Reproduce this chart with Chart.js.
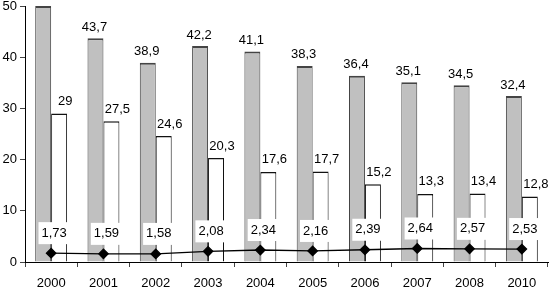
<!DOCTYPE html>
<html>
<head>
<meta charset="utf-8">
<script src="https://cdn.jsdelivr.net/npm/chart.js@4"></script>
<style>
  html, body { margin: 0; padding: 0; background: #fff; }
  #wrap { width: 557px; height: 287px; }
</style>
</head>
<body>
<div id="wrap"><canvas id="myChart"></canvas></div>
<script>
var years = ["2000", "2001", "2002", "2003", "2004", "2005", "2006", "2007", "2008", "2010"];
var greyValues = [50, 43.7, 38.9, 42.2, 41.1, 38.3, 36.4, 35.1, 34.5, 32.4];
var whiteValues = [29, 27.5, 24.6, 20.3, 17.6, 17.7, 15.2, 13.3, 13.4, 12.8];
var lineValues = [1.73, 1.59, 1.58, 2.08, 2.34, 2.16, 2.39, 2.64, 2.57, 2.53];
var yTicks = [0, 10, 20, 30, 40, 50];

var FONT = "Liberation Sans, Arial, sans-serif";

function fmt(v) {
    return String(v).replace(".", ",");
}

// value labels, drawn by hand (no datalabels plugin here)
var labelPlugin = {
    id: "valueLabels",
    afterDatasetsDraw: function (chart) {
        var ctx = chart.ctx;
        ctx.save();
        ctx.font = "13px " + FONT;
        ctx.fillStyle = "#000";
        ctx.textAlign = "center";
        ctx.textBaseline = "middle";

        chart.getDatasetMeta(0).data.forEach(function (bar, i) {
            if (greyValues[i] >= 50) return;
            ctx.fillText(fmt(greyValues[i]), bar.x - 1, bar.y - 11);
        });
        chart.getDatasetMeta(1).data.forEach(function (bar, i) {
            ctx.fillText(fmt(whiteValues[i]), bar.x + 6, bar.y - 12);
        });
        chart.getDatasetMeta(2).data.forEach(function (pt, i) {
            var t = fmt(lineValues[i]);
            var w = ctx.measureText(t).width + 6;
            var cx = pt.x + 3, cy = pt.y - 20;
            ctx.fillStyle = "#fff";
            ctx.fillRect(cx - w / 2, cy - 11, w, 22);
            ctx.fillStyle = "#000";
            ctx.fillText(t, cx, cy);
        });
        ctx.restore();
    }
};

var ctx = document.getElementById("myChart");
var myChart = new Chart(ctx, {
    type: "bar",
    data: {
        labels: years,
        datasets: [
            {
                data: greyValues,
                backgroundColor: "#c0c0c0",
                borderColor: "#444",
                borderWidth: { top: 2, left: 1, right: 1, bottom: 0 },
                borderSkipped: false,
                categoryPercentage: 0.61,
                barPercentage: 1,
                order: 2,
            },
            {
                data: whiteValues,
                backgroundColor: "#ffffff",
                borderColor: "#111",
                borderWidth: { top: 1.5, left: 1, right: 1, bottom: 0 },
                borderSkipped: false,
                categoryPercentage: 0.61,
                barPercentage: 1,
                order: 2,
            },
            {
                type: "line",
                data: lineValues,
                borderColor: "#000",
                borderWidth: 1.3,
                backgroundColor: "#000",
                pointStyle: "rectRot",
                pointRadius: 4.7,
                pointBackgroundColor: "#000",
                pointBorderColor: "#000",
                tension: 0,
                order: 0,
            },
        ],
    },
    options: {
        responsive: true,
        maintainAspectRatio: false,
        animation: false,
        layout: { padding: { top: 0, right: 9, left: 0, bottom: 0 } },
        plugins: {
            legend: { display: false },
            tooltip: { enabled: false },
        },
        scales: {
            x: {
                grid: { display: true, drawOnChartArea: false, drawTicks: true, tickLength: 5, color: "#444", offset: true },
                border: { display: true, color: "#000", width: 1 },
                ticks: { color: "#000", font: { family: FONT, size: 13 }, padding: 9, maxRotation: 0 },
                afterFit: function (s) { s.height = 25; s.paddingLeft = 0; s.paddingRight = 0; },
            },
            y: {
                min: 0,
                max: 50,
                afterBuildTicks: function (s) {
                    s.ticks = yTicks.map(function (v) { return { value: v }; });
                },
                grid: { display: true, drawOnChartArea: false, drawTicks: true, tickLength: 5, color: "#444" },
                border: { display: true, color: "#000", width: 1 },
                ticks: { color: "#000", font: { family: FONT, size: 13 }, padding: 3 },
                afterFit: function (s) { s.width = 25; s.paddingTop = 3; s.paddingBottom = 0; },
            },
        },
    },
    plugins: [labelPlugin],
});
</script>
</body>
</html>
